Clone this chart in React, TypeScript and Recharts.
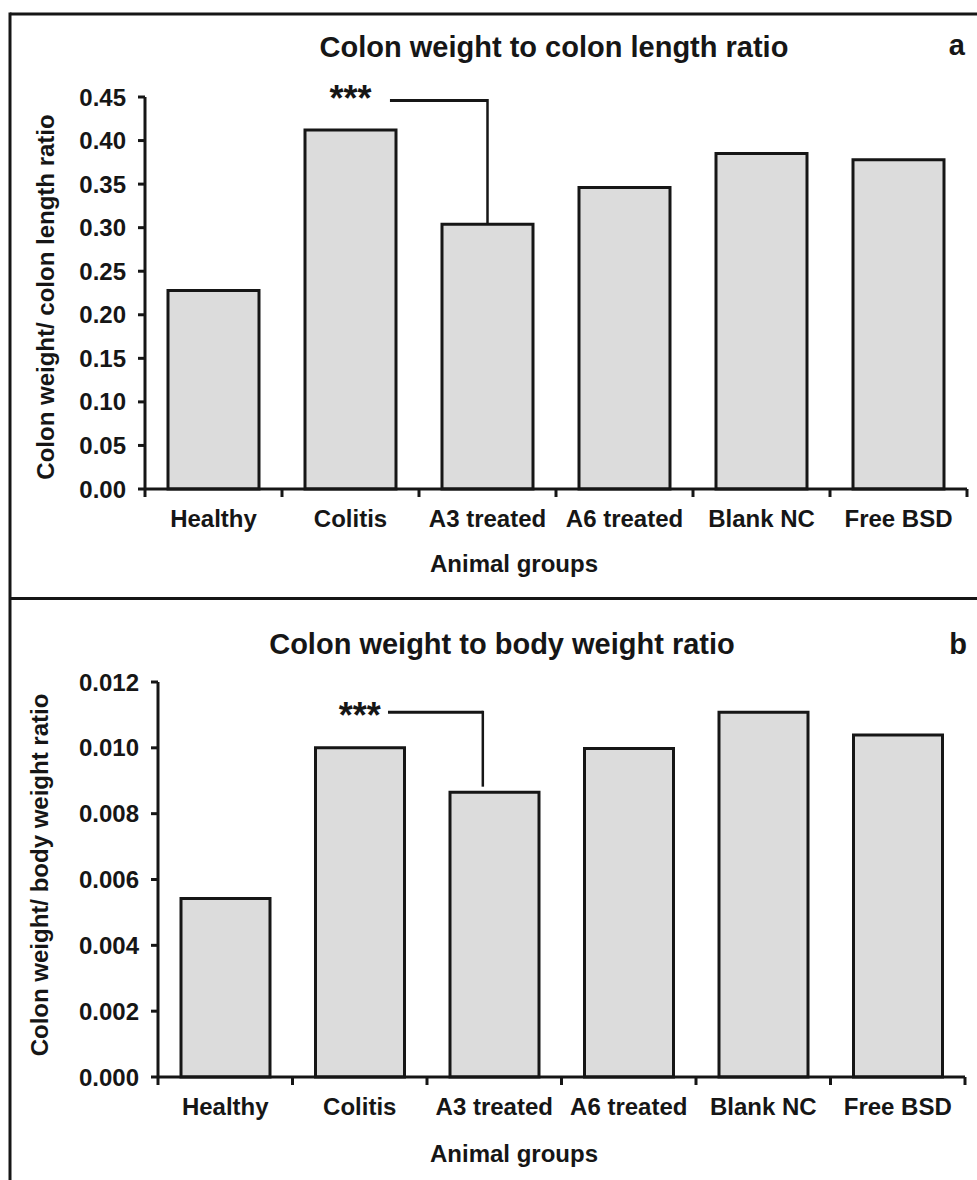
import { Bar, BarChart, ReferenceDot, ReferenceLine, XAxis, YAxis } from 'recharts';

const GROUPS = ['Healthy', 'Colitis', 'A3 treated', 'A6 treated', 'Blank NC', 'Free BSD'];
const LENGTH_RATIO = [0.228, 0.412, 0.304, 0.346, 0.385, 0.378];
const BODY_RATIO = [0.00542, 0.01, 0.00865, 0.00998, 0.01108, 0.01039];
const LENGTH_TICKS = [0, 0.05, 0.1, 0.15, 0.2, 0.25, 0.3, 0.35, 0.4, 0.45];
const BODY_TICKS = [0, 0.002, 0.004, 0.006, 0.008, 0.01, 0.012];

// significance brackets: Colitis vs A3 treated.
// start/end are fractions of the distance between the two category centres
const LENGTH_BRACKET = { from: 'Colitis', to: 'A3 treated', top: 0.446, bottom: 0.305, start: 0.288, end: 1, star: 0.449 };
const BODY_BRACKET = { from: 'Colitis', to: 'A3 treated', top: 0.01108, bottom: 0.00882, start: 0.21, end: 0.915, star: 0.01099 };

const FONT = '"Liberation Sans", Arial, sans-serif';
const INK = '#161616';
const FILL = '#dcdcdc';

const lengthData = GROUPS.map((group, i) => ({ group, value: LENGTH_RATIO[i] }));
const bodyData = GROUPS.map((group, i) => ({ group, value: BODY_RATIO[i] }));

type Bracket = typeof LENGTH_BRACKET;

const XTick = (props: any) => {
  const { x, y, payload, index, visibleTicksCount } = props;
  const half = payload.offset ?? 68;
  return (
    <g>
      <line x1={x - half} x2={x - half} y1={y} y2={y + 8} stroke={INK} strokeWidth={3} />
      {index === visibleTicksCount - 1 && (
        <line x1={x + half} x2={x + half} y1={y} y2={y + 8} stroke={INK} strokeWidth={3} />
      )}
      <text x={x} y={y + 38} textAnchor="middle" fontSize={24} fontWeight="bold" fontFamily={FONT} fill={INK}>
        {payload.value}
      </text>
    </g>
  );
};

const bracketShape = (b: Bracket) => (p: any) => {
  const { x1, y1, x2, y2 } = p;
  const sx = x1 + (x2 - x1) * b.start;
  const ex = x1 + (x2 - x1) * b.end;
  return (
    <g>
      <line x1={sx} x2={ex} y1={y1} y2={y1} stroke={INK} strokeWidth={3} />
      <line x1={ex} x2={ex} y1={y1 - 1.5} y2={y2} stroke={INK} strokeWidth={2.5} />
    </g>
  );
};

const tickStyle = { fontSize: 24, fontWeight: 'bold', fill: INK, fontFamily: FONT };

interface PanelProps {
  data: { group: string; value: number }[];
  ticks: number[];
  digits: number;
  bracket: Bracket;
  width: number;
  height: number;
  margin: { top: number; right: number; bottom: number; left: number };
  barSize: number;
}

const Panel = ({ data, ticks, digits, bracket, width, height, margin, barSize }: PanelProps) => (
  <BarChart width={width} height={height} data={data} margin={margin}>
    <XAxis
      dataKey="group"
      axisLine={{ stroke: INK, strokeWidth: 3 }}
      tickLine={false}
      tickSize={0}
      tickMargin={0}
      interval={0}
      height={60}
      tick={<XTick />}
    />
    <YAxis
      width={80}
      domain={[0, ticks[ticks.length - 1]]}
      ticks={ticks}
      interval={0}
      tickFormatter={(v: number) => v.toFixed(digits)}
      axisLine={{ stroke: INK, strokeWidth: 3 }}
      tickLine={{ stroke: INK, strokeWidth: 3 }}
      tickSize={7}
      tickMargin={12}
      tick={tickStyle}
    />
    <Bar dataKey="value" fill={FILL} stroke={INK} strokeWidth={3} barSize={barSize} isAnimationActive={false} />
    <ReferenceLine
      segment={[
        { x: bracket.from, y: bracket.top },
        { x: bracket.to, y: bracket.bottom }
      ]}
      ifOverflow="visible"
      shape={bracketShape(bracket)}
    />
    <ReferenceDot
      x={bracket.from}
      y={bracket.star}
      r={1}
      fill="none"
      stroke="none"
      ifOverflow="visible"
      label={{ value: '***', position: 'center', fontSize: 36, fontWeight: 'bold', fill: INK, fontFamily: FONT }}
    />
  </BarChart>
);

const textProps = { fontFamily: FONT, fontWeight: 'bold' as const, fill: INK };

export default function App() {
  return (
    <div style={{ position: 'absolute', left: 0, top: 0, width: 977, height: 1180, background: '#fff' }}>
      <div style={{ position: 'absolute', left: 0, top: 0 }}>
        <Panel
          data={lengthData}
          ticks={LENGTH_TICKS}
          digits={2}
          bracket={LENGTH_BRACKET}
          width={977}
          height={598}
          margin={{ top: 97, right: 10, bottom: 49, left: 65 }}
          barSize={91}
        />
      </div>
      <div style={{ position: 'absolute', left: 0, top: 598 }}>
        <Panel
          data={bodyData}
          ticks={BODY_TICKS}
          digits={3}
          bracket={BODY_BRACKET}
          width={977}
          height={582}
          margin={{ top: 84, right: 12, bottom: 43, left: 78 }}
          barSize={89}
        />
      </div>
      <svg width={977} height={1180} style={{ position: 'absolute', left: 0, top: 0, pointerEvents: 'none' }}>
        <line x1={10} y1={14} x2={977} y2={14} stroke={INK} strokeWidth={3} />
        <line x1={10} y1={12.5} x2={10} y2={1180} stroke={INK} strokeWidth={3} />
        <line x1={10} y1={598.5} x2={977} y2={598.5} stroke={INK} strokeWidth={3} />

        <text x={554} y={57} textAnchor="middle" fontSize={29} {...textProps}>Colon weight to colon length ratio</text>
        <text x={965} y={55} textAnchor="end" fontSize={29} {...textProps}>a</text>
        <text transform="translate(54, 297) rotate(-90)" textAnchor="middle" fontSize={24} {...textProps}>
          Colon weight/ colon length ratio
        </text>
        <text x={514} y={572} textAnchor="middle" fontSize={24} {...textProps}>Animal groups</text>

        <text x={502} y={654} textAnchor="middle" fontSize={29} {...textProps}>Colon weight to body weight ratio</text>
        <text x={967} y={654} textAnchor="end" fontSize={29} {...textProps}>b</text>
        <text transform="translate(48, 875) rotate(-90)" textAnchor="middle" fontSize={24} {...textProps}>
          Colon weight/ body weight ratio
        </text>
        <text x={514} y={1162} textAnchor="middle" fontSize={24} {...textProps}>Animal groups</text>
      </svg>
    </div>
  );
}
